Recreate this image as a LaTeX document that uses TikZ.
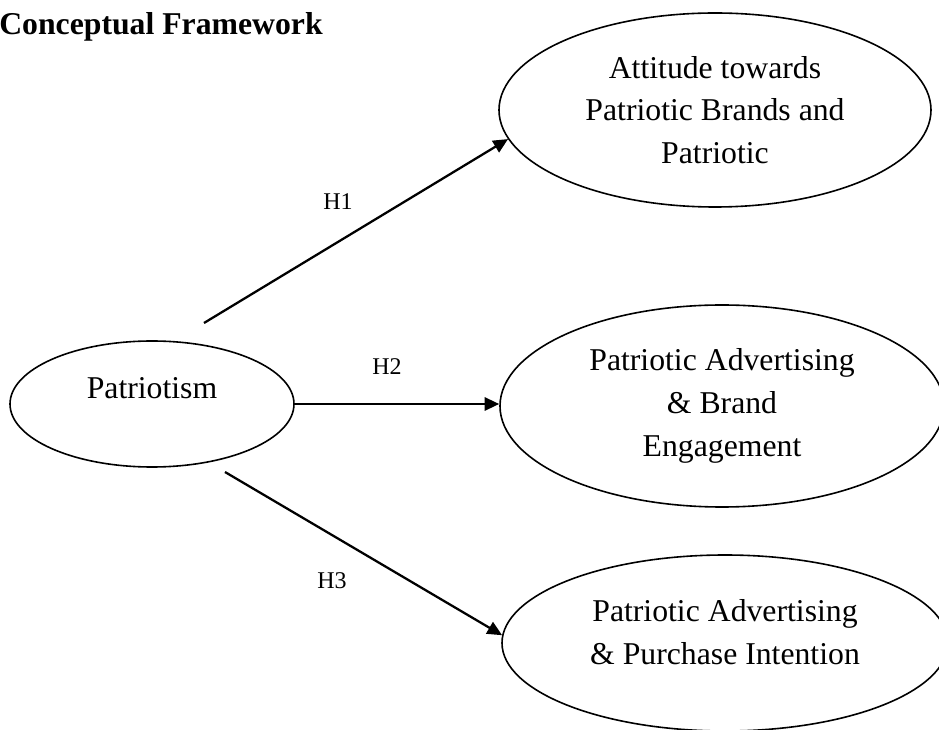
\documentclass[tikz,border=0pt]{standalone}
\usepackage{fontspec}
\setmainfont{Liberation Serif}
\usetikzlibrary{shapes.geometric,arrows.meta}

\tikzset{
	construct/.style={draw, ellipse, line width=1.2pt, align=center, inner sep=0pt, font=\fontsize{23.8}{32}\selectfont},
	hyp/.style={line width=1.7pt, -{Triangle[length=11pt,width=10pt]}},
	hlabel/.style={inner sep=0pt, font=\fontsize{18}{22}\selectfont}}

\begin{document}
\begin{tikzpicture}[x=0.75pt,y=0.75pt,yscale=-1,xscale=1]
	\useasboundingbox (0,0) rectangle (939,730);
	
	% Text Node
	\node [anchor=base west, inner sep=0pt, font=\fontsize{23.8}{32}\selectfont\bfseries] (title) at (-1,35) {Conceptual Framework};
	
	%Shape: Ellipse
	\node [construct, minimum width=213pt, minimum height=94.5pt, text depth=24pt] (pat) at (152,404) {Patriotism};
	%Shape: Ellipse
	\node [construct, minimum width=324pt, minimum height=145.5pt] (attA) at (715,110) {Attitude towards\\Patriotic Brands and\\Patriotic};
	%Shape: Ellipse
	\node [construct, minimum width=333pt, minimum height=151.5pt] (engB) at (722,406) {Patriotic Advertising\\\& Brand\\Engagement};
	%Shape: Ellipse
	\node [construct, minimum width=334.5pt, minimum height=132pt, text depth=16.5pt] (purC) at (725,643) {Patriotic Advertising\\\& Purchase Intention};
	
	%Straight Lines
	\coordinate (h1start) at (204,323);
	\draw [hyp] (h1start) -- (attA.188);
	%Straight Lines
	\draw [hyp] (pat.east) -- (pat.east -| engB.west);
	%Straight Lines
	\coordinate (h3start) at (225,472);
	\draw [hyp] (h3start) -- (purC.178);
	
	% Text Node
	\node [hlabel] (h1) at (338,202) {H1};
	% Text Node
	\node [hlabel] (h2) at (387,367) {H2};
	% Text Node
	\node [hlabel] (h3) at (332,581) {H3};
	
\end{tikzpicture}
\end{document}
